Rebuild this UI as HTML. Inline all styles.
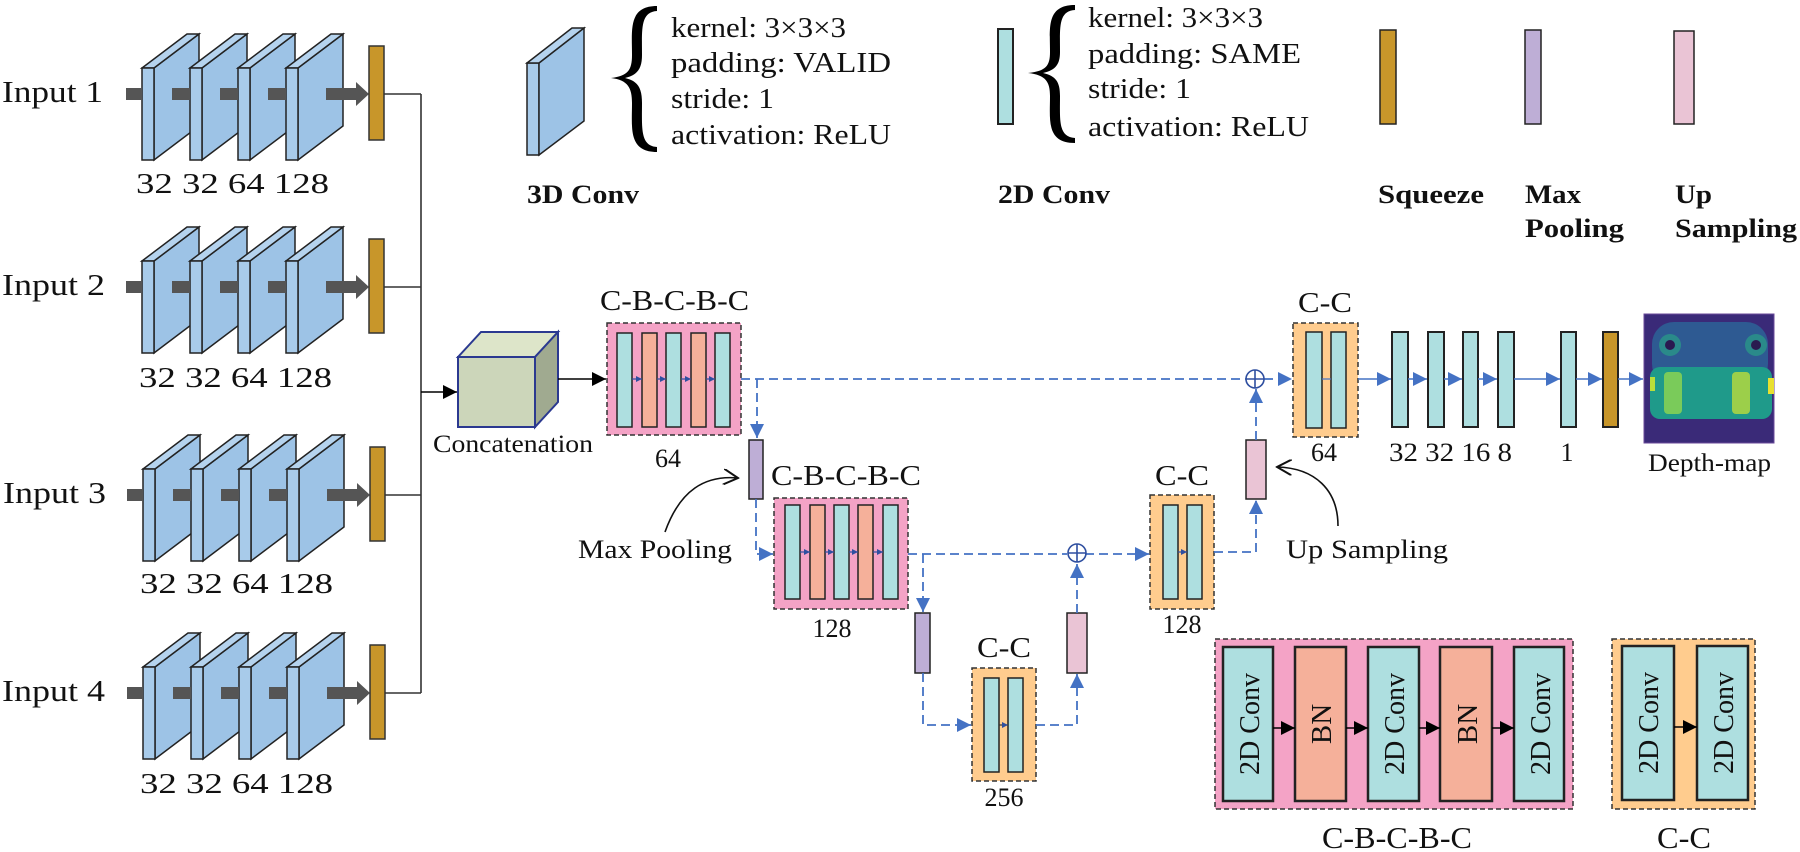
<!DOCTYPE html>
<html><head><meta charset="utf-8"><style>
html,body{margin:0;padding:0;background:#fff}
svg{display:block}
text{font-family:"Liberation Serif",serif;fill:#111}
.b{font-weight:bold}
</style></head><body>
<svg width="1800" height="852" viewBox="0 0 1800 852" xmlns="http://www.w3.org/2000/svg">
<defs>
<g id="slab">
<polygon points="12,0 57,-34 57,58 12,92" fill="#9DC3E6" stroke="#222" stroke-width="1.5"/>
<polygon points="0,0 45,-34 57,-34 12,0" fill="#B5D3EE" stroke="#222" stroke-width="1.5"/>
<rect x="0" y="0" width="12" height="92" fill="#A8CBEA" stroke="#222" stroke-width="1.5"/>
</g>
<g id="row">
<use href="#slab" x="142" y="0"/>
<path d="M126,20h16v12h-16z" fill="#555"/>
<use href="#slab" x="190" y="0"/>
<path d="M172,20h18v12h-18z" fill="#555"/>
<use href="#slab" x="238" y="0"/>
<path d="M220,20h18v12h-18z" fill="#555"/>
<use href="#slab" x="286" y="0"/>
<path d="M268,20h18v12h-18z M326,20h32v12h-32z M356,14 L369,26 L356,38z" fill="#555"/>
<rect x="369" y="-22" width="15" height="94" fill="#C8962A" stroke="#333" stroke-width="1.5"/>
</g>
<marker id="bh" viewBox="0 0 10 10" refX="10" refY="5" markerWidth="14" markerHeight="14" markerUnits="userSpaceOnUse" orient="auto"><path d="M0,0L10,5L0,10z" fill="#4472C4"/></marker>
<marker id="kh" viewBox="0 0 10 10" refX="10" refY="5" markerWidth="14" markerHeight="14" markerUnits="userSpaceOnUse" orient="auto"><path d="M0,0L10,5L0,10z" fill="#000"/></marker>
<marker id="sh" viewBox="0 0 10 10" refX="10" refY="5" markerWidth="6" markerHeight="6" markerUnits="userSpaceOnUse" orient="auto"><path d="M0,0L10,5L0,10z" fill="#2F4FA0"/></marker>
<marker id="oh" viewBox="0 0 12 12" refX="11" refY="6" markerWidth="16" markerHeight="16" markerUnits="userSpaceOnUse" orient="auto"><path d="M0,0L11,6L0,12" fill="none" stroke="#111" stroke-width="1.5"/></marker>
</defs>

<!-- inputs -->
<use href="#row" x="0" y="68"/>
<use href="#row" x="0" y="261"/>
<use href="#row" x="1" y="469"/>
<use href="#row" x="1" y="667"/>
<g font-size="31">
<text x="2" y="102" textLength="101" lengthAdjust="spacingAndGlyphs">Input 1</text>
<text x="2" y="295" textLength="103" lengthAdjust="spacingAndGlyphs">Input 2</text>
<text x="3" y="503" textLength="103" lengthAdjust="spacingAndGlyphs">Input 3</text>
<text x="2" y="701" textLength="103" lengthAdjust="spacingAndGlyphs">Input 4</text>
</g>
<g font-size="29">
<text x="136" y="193" textLength="193" lengthAdjust="spacingAndGlyphs">32  32  64  128</text>
<text x="139" y="387" textLength="193" lengthAdjust="spacingAndGlyphs">32  32  64  128</text>
<text x="140" y="593" textLength="193" lengthAdjust="spacingAndGlyphs">32  32  64  128</text>
<text x="140" y="793" textLength="193" lengthAdjust="spacingAndGlyphs">32  32  64  128</text>
</g>
<!-- merge lines -->
<path d="M384,94H421 M384,287H421 M385,495H421 M385,693H421 M421,94V693" stroke="#333" stroke-width="1.6" fill="none"/>
<line x1="421" y1="392" x2="457" y2="392" stroke="#000" stroke-width="1.6" marker-end="url(#kh)"/>
<!-- cube -->
<polygon points="458,357 481,332 558,332 535,357" fill="#DDE5C9" stroke="#2B3990" stroke-width="2"/>
<polygon points="535,357 558,332 558,402 535,427" fill="#A0AA90" stroke="#2B3990" stroke-width="2"/>
<rect x="458" y="357" width="77" height="70" fill="#CCD6BA" stroke="#2B3990" stroke-width="2"/>
<text x="433" y="452" font-size="25" textLength="160" lengthAdjust="spacingAndGlyphs">Concatenation</text>
<line x1="558" y1="379" x2="606" y2="379" stroke="#000" stroke-width="1.6" marker-end="url(#kh)"/>

<!-- CBCBC 64 -->
<rect x="607" y="323" width="134" height="112" fill="#F4A3C6" stroke="#333" stroke-width="1.5" stroke-dasharray="5,3"/>
<g stroke="#222" stroke-width="1.5">
<rect x="617" y="333" width="15" height="94" fill="#AEDFE0"/>
<rect x="642" y="333" width="15" height="94" fill="#F5B09A"/>
<rect x="666" y="333" width="15" height="94" fill="#AEDFE0"/>
<rect x="691" y="333" width="15" height="94" fill="#F5B09A"/>
<rect x="715" y="333" width="15" height="94" fill="#AEDFE0"/>
</g>
<g stroke="#2F4FA0" stroke-width="1.2" marker-end="url(#sh)">
<line x1="632" y1="379" x2="642" y2="379"/><line x1="657" y1="379" x2="666" y2="379"/><line x1="681" y1="379" x2="691" y2="379"/><line x1="706" y1="379" x2="715" y2="379"/>
</g>
<text x="600" y="310" font-size="29" textLength="149" lengthAdjust="spacingAndGlyphs">C-B-C-B-C</text>
<text x="668" y="467" font-size="26" text-anchor="middle">64</text>

<!-- CBCBC 128 -->
<rect x="774" y="498" width="134" height="111" fill="#F4A3C6" stroke="#333" stroke-width="1.5" stroke-dasharray="5,3"/>
<g stroke="#222" stroke-width="1.5">
<rect x="785" y="505" width="15" height="94" fill="#AEDFE0"/>
<rect x="810" y="505" width="15" height="94" fill="#F5B09A"/>
<rect x="834" y="505" width="15" height="94" fill="#AEDFE0"/>
<rect x="858" y="505" width="15" height="94" fill="#F5B09A"/>
<rect x="883" y="505" width="15" height="94" fill="#AEDFE0"/>
</g>
<g stroke="#2F4FA0" stroke-width="1.2" marker-end="url(#sh)">
<line x1="800" y1="552" x2="810" y2="552"/><line x1="825" y1="552" x2="834" y2="552"/><line x1="849" y1="552" x2="858" y2="552"/><line x1="873" y1="552" x2="883" y2="552"/>
</g>
<text x="771" y="485" font-size="29" textLength="150" lengthAdjust="spacingAndGlyphs">C-B-C-B-C</text>
<text x="832" y="637" font-size="26" text-anchor="middle">128</text>

<!-- C-C 256 -->
<rect x="972" y="668" width="64" height="113" fill="#FFCC8E" stroke="#333" stroke-width="1.5" stroke-dasharray="5,3"/>
<rect x="984" y="678" width="15" height="94" fill="#AEDFE0" stroke="#222" stroke-width="1.5"/>
<rect x="1008" y="678" width="15" height="94" fill="#AEDFE0" stroke="#222" stroke-width="1.5"/>
<line x1="999" y1="725" x2="1008" y2="725" stroke="#333" stroke-width="1.2" marker-end="url(#sh)"/>
<text x="977" y="657" font-size="29" textLength="54" lengthAdjust="spacingAndGlyphs">C-C</text>
<text x="1004" y="806" font-size="26" text-anchor="middle">256</text>

<!-- C-C 128 -->
<rect x="1150" y="495" width="64" height="114" fill="#FFCC8E" stroke="#333" stroke-width="1.5" stroke-dasharray="5,3"/>
<rect x="1163" y="505" width="15" height="94" fill="#AEDFE0" stroke="#222" stroke-width="1.5"/>
<rect x="1187" y="505" width="15" height="94" fill="#AEDFE0" stroke="#222" stroke-width="1.5"/>
<line x1="1178" y1="552" x2="1187" y2="552" stroke="#2F4FA0" stroke-width="1.2" marker-end="url(#sh)"/>
<text x="1155" y="485" font-size="29" textLength="54" lengthAdjust="spacingAndGlyphs">C-C</text>
<text x="1182" y="633" font-size="26" text-anchor="middle">128</text>

<!-- C-C 64 top -->
<rect x="1293" y="323" width="65" height="114" fill="#FFCC8E" stroke="#333" stroke-width="1.5" stroke-dasharray="5,3"/>
<rect x="1306" y="332" width="16" height="96" fill="#AEDFE0" stroke="#222" stroke-width="1.5"/>
<rect x="1331" y="332" width="15" height="96" fill="#AEDFE0" stroke="#222" stroke-width="1.5"/>
<line x1="1322" y1="379" x2="1331" y2="379" stroke="#4472C4" stroke-width="1.2"/>
<text x="1298" y="312" font-size="29" textLength="54" lengthAdjust="spacingAndGlyphs">C-C</text>
<text x="1324" y="461" font-size="26" text-anchor="middle">64</text>

<!-- pools / ups -->
<rect x="749" y="440" width="14" height="59" fill="#BEAED6" stroke="#222" stroke-width="1.5"/>
<rect x="915" y="613" width="15" height="60" fill="#BEAED6" stroke="#222" stroke-width="1.5"/>
<rect x="1067" y="613" width="20" height="60" fill="#EAC4D5" stroke="#222" stroke-width="1.5"/>
<rect x="1246" y="440" width="20" height="59" fill="#EAC4D5" stroke="#222" stroke-width="1.5"/>

<!-- dashed connectors -->
<g stroke="#4472C4" stroke-width="1.8" fill="none" stroke-dasharray="9,5">
<path d="M741,379H1246"/>
<path d="M757,379V438" marker-end="url(#bh)"/>
<path d="M756,499V554H773" marker-end="url(#bh)"/>
<path d="M908,554H1067"/>
<path d="M923,554V612" marker-end="url(#bh)"/>
<path d="M923,673V725H971" marker-end="url(#bh)"/>
<path d="M1036,725H1077V674" marker-end="url(#bh)"/>
<path d="M1077,613V564" marker-end="url(#bh)"/>
<path d="M1085,554H1149" marker-end="url(#bh)"/>
<path d="M1214,552H1256V500" marker-end="url(#bh)"/>
<path d="M1256,440V389" marker-end="url(#bh)"/>
<path d="M1264,379H1292" marker-end="url(#bh)"/>
</g>
<g stroke="#2F4FA0" stroke-width="1.6" fill="none">
<circle cx="1255" cy="379" r="9"/><path d="M1246,379H1264M1255,370V388"/>
<circle cx="1077" cy="553" r="9"/><path d="M1068,553H1086M1077,544V562"/>
</g>

<!-- annotations -->
<path d="M665,532 C680,490 705,475 738,478" stroke="#111" stroke-width="1.6" fill="none" marker-end="url(#oh)"/>
<text x="578" y="558" font-size="26" textLength="154" lengthAdjust="spacingAndGlyphs">Max Pooling</text>
<path d="M1338,526 C1338,490 1315,468 1277,467" stroke="#111" stroke-width="1.6" fill="none" marker-end="url(#oh)"/>
<text x="1286" y="558" font-size="26" textLength="162" lengthAdjust="spacingAndGlyphs">Up Sampling</text>

<!-- output chain -->
<g stroke="#222" stroke-width="2" fill="#AEDFE0">
<rect x="1392" y="332" width="16" height="95"/>
<rect x="1428" y="332" width="16" height="95"/>
<rect x="1463" y="332" width="15" height="95"/>
<rect x="1498" y="332" width="16" height="95"/>
<rect x="1561" y="332" width="15" height="95"/>
<rect x="1603" y="332" width="15" height="95" fill="#C8962A"/>
</g>
<g stroke="#4472C4" stroke-width="1.6" marker-end="url(#bh)">
<line x1="1358" y1="379" x2="1391" y2="379"/>
<line x1="1408" y1="379" x2="1427" y2="379"/>
<line x1="1444" y1="379" x2="1462" y2="379"/>
<line x1="1478" y1="379" x2="1497" y2="379"/>
<line x1="1514" y1="379" x2="1560" y2="379"/>
<line x1="1576" y1="379" x2="1602" y2="379"/>
<line x1="1618" y1="379" x2="1643" y2="379"/>
</g>
<text x="1389" y="461" font-size="26" textLength="123" lengthAdjust="spacingAndGlyphs">32 32 16  8</text>
<text x="1567" y="461" font-size="26" text-anchor="middle">1</text>
<!-- depth map -->
<rect x="1644" y="314" width="130" height="129" fill="#3A2A78" stroke="#6a4a9a" stroke-width="1"/>
<rect x="1652" y="322" width="116" height="64" rx="22" fill="#2E5A92"/>
<circle cx="1670" cy="345" r="11" fill="#2A8A8A"/><circle cx="1670" cy="345" r="5" fill="#2a1a50"/>
<circle cx="1756" cy="345" r="11" fill="#2A8A8A"/><circle cx="1756" cy="345" r="5" fill="#2a1a50"/>
<rect x="1650" y="367" width="122" height="52" rx="10" fill="#1F9A8A"/>
<rect x="1664" y="372" width="18" height="42" rx="4" fill="#7ACB5A"/>
<rect x="1732" y="372" width="18" height="42" rx="4" fill="#9CCF4A"/>
<rect x="1650" y="377" width="5" height="14" fill="#B8DE3A"/>
<rect x="1768" y="378" width="6" height="16" fill="#E8E030"/>
<text x="1648" y="471" font-size="25" textLength="123" lengthAdjust="spacingAndGlyphs">Depth-map</text>

<!-- legend top -->
<rect x="527" y="63" width="12" height="92" fill="#A8CBEA" stroke="#222" stroke-width="1.5"/>
<polygon points="539,63 584,28 584,121 539,155" fill="#9DC3E6" stroke="#222" stroke-width="1.5"/>
<polygon points="527,63 572,28 584,28 539,63" fill="#B5D3EE" stroke="#222" stroke-width="1.5"/>
<!-- brace 1 -->
<path d="M657,6 C628,6 632,30 632,55 C632,70 628,76 611,78 C628,80 632,88 632,103 C632,128 628,152 657,152 L657,147 C640,146 642,128 642,103 C642,88 638,81 625,78 C638,75 642,68 642,55 C642,30 640,12 657,11 Z" fill="#000"/>
<g font-size="28">
<text x="671" y="37" textLength="175" lengthAdjust="spacingAndGlyphs">kernel: 3×3×3</text>
<text x="671" y="72" textLength="220" lengthAdjust="spacingAndGlyphs">padding: VALID</text>
<text x="671" y="108" textLength="103" lengthAdjust="spacingAndGlyphs">stride: 1</text>
<text x="671" y="144" textLength="220" lengthAdjust="spacingAndGlyphs">activation: ReLU</text>
</g>
<text x="527" y="203" font-size="26" class="b" textLength="112" lengthAdjust="spacingAndGlyphs">3D Conv</text>
<rect x="998" y="29" width="15" height="95" fill="#AEDFE0" stroke="#222" stroke-width="2"/>
<!-- brace 2 -->
<path d="M1075,5 C1046,5 1050,28 1050,52 C1050,66 1046,71 1028,73 C1046,75 1050,82 1050,96 C1050,120 1046,143 1075,143 L1075,138 C1058,137 1060,120 1060,96 C1060,82 1056,76 1043,73 C1056,70 1060,64 1060,52 C1060,28 1058,11 1075,10 Z" fill="#000"/>
<g font-size="28">
<text x="1088" y="27" textLength="175" lengthAdjust="spacingAndGlyphs">kernel: 3×3×3</text>
<text x="1088" y="63" textLength="213" lengthAdjust="spacingAndGlyphs">padding: SAME</text>
<text x="1088" y="98" textLength="103" lengthAdjust="spacingAndGlyphs">stride: 1</text>
<text x="1088" y="136" textLength="221" lengthAdjust="spacingAndGlyphs">activation: ReLU</text>
</g>
<text x="998" y="203" font-size="26" class="b" textLength="112" lengthAdjust="spacingAndGlyphs">2D Conv</text>
<rect x="1380" y="30" width="16" height="94" fill="#C8962A" stroke="#222" stroke-width="1.5"/>
<rect x="1525" y="30" width="16" height="94" fill="#BEAED6" stroke="#222" stroke-width="1.5"/>
<rect x="1674" y="31" width="20" height="93" fill="#EAC4D5" stroke="#222" stroke-width="1.5"/>
<g font-size="26" class="b">
<text x="1378" y="203" textLength="106" lengthAdjust="spacingAndGlyphs">Squeeze</text>
<text x="1525" y="203" textLength="56" lengthAdjust="spacingAndGlyphs">Max</text>
<text x="1525" y="237" textLength="99" lengthAdjust="spacingAndGlyphs">Pooling</text>
<text x="1675" y="203" textLength="37" lengthAdjust="spacingAndGlyphs">Up</text>
<text x="1675" y="237" textLength="122" lengthAdjust="spacingAndGlyphs">Sampling</text>
</g>

<!-- legend bottom -->
<rect x="1215" y="639" width="358" height="170" fill="#F4A3C6" stroke="#333" stroke-width="1.5" stroke-dasharray="5,3"/>
<g stroke="#222" stroke-width="2.5">
<rect x="1223" y="647" width="50" height="154" fill="#AEDFE0"/>
<rect x="1295" y="647" width="51" height="154" fill="#F5B09A"/>
<rect x="1368" y="647" width="51" height="154" fill="#AEDFE0"/>
<rect x="1440" y="647" width="52" height="154" fill="#F5B09A"/>
<rect x="1514" y="647" width="50" height="154" fill="#AEDFE0"/>
</g>
<g stroke="#000" stroke-width="1.6" marker-end="url(#kh)">
<line x1="1273" y1="728" x2="1295" y2="728"/>
<line x1="1346" y1="728" x2="1368" y2="728"/>
<line x1="1419" y1="728" x2="1440" y2="728"/>
<line x1="1492" y1="728" x2="1514" y2="728"/>
</g>
<g font-size="29" text-anchor="middle">
<text transform="translate(1259,724) rotate(-90)" textLength="102" lengthAdjust="spacingAndGlyphs">2D Conv</text>
<text transform="translate(1331,724) rotate(-90)">BN</text>
<text transform="translate(1404,724) rotate(-90)" textLength="102" lengthAdjust="spacingAndGlyphs">2D Conv</text>
<text transform="translate(1477,724) rotate(-90)">BN</text>
<text transform="translate(1550,724) rotate(-90)" textLength="102" lengthAdjust="spacingAndGlyphs">2D Conv</text>
</g>
<text x="1397" y="848" font-size="31" text-anchor="middle" textLength="150" lengthAdjust="spacingAndGlyphs">C-B-C-B-C</text>
<rect x="1612" y="639" width="143" height="170" fill="#FFCC8E" stroke="#333" stroke-width="1.5" stroke-dasharray="5,3"/>
<rect x="1622" y="646" width="52" height="154" fill="#AEDFE0" stroke="#222" stroke-width="2.5"/>
<rect x="1697" y="646" width="51" height="154" fill="#AEDFE0" stroke="#222" stroke-width="2.5"/>
<line x1="1674" y1="727" x2="1697" y2="727" stroke="#000" stroke-width="1.6" marker-end="url(#kh)"/>
<g font-size="29" text-anchor="middle">
<text transform="translate(1658,723) rotate(-90)" textLength="102" lengthAdjust="spacingAndGlyphs">2D Conv</text>
<text transform="translate(1733,723) rotate(-90)" textLength="102" lengthAdjust="spacingAndGlyphs">2D Conv</text>
</g>
<text x="1684" y="848" font-size="31" text-anchor="middle" textLength="54" lengthAdjust="spacingAndGlyphs">C-C</text>
</svg>
</body></html>
